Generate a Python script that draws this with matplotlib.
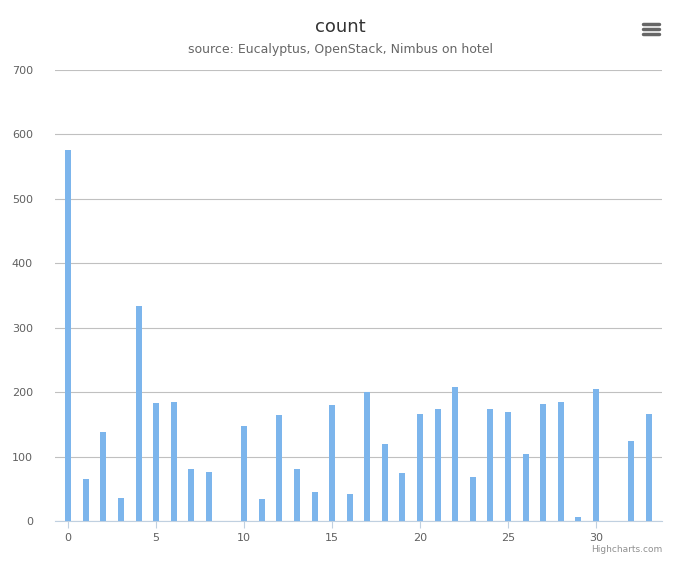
import matplotlib
matplotlib.use("Agg")
import matplotlib.pyplot as plt

categories = list(range(34))
values = [576, 65, 138, 36, 334, 183, 185, 81, 76, 0, 147, 34, 165, 81, 45, 180, 42, 200,
          120, 74, 166, 174, 208, 68, 174, 169, 104, 182, 185, 6, 205, 0, 124, 166]
yticks = [0, 100, 200, 300, 400, 500, 600, 700]
xticks = [0, 5, 10, 15, 20, 25, 30]

W, H = 680, 566
fig = plt.figure(figsize=(W/100, H/100), dpi=100)
ax = fig.add_axes([55/W, 1-521/H, (662-55)/W, (521-70)/H])
ax.bar(categories, values, width=0.34, color="#7cb5ec", zorder=3)
ax.set_xlim(-0.75, 33.75)
ax.set_ylim(0, 700)
ax.set_yticks(yticks)
ax.set_xticks(xticks)
ax.yaxis.grid(True, color="#c0c0c0", linewidth=0.8, zorder=0)
for s in ["top", "right", "left"]:
    ax.spines[s].set_visible(False)
ax.spines["bottom"].set_color("#c0d0e0")
ax.tick_params(axis="y", length=0, labelsize=8, labelcolor="#606060", pad=16)
ax.tick_params(axis="x", length=5, color="#c0d0e0", labelsize=8, labelcolor="#606060")
for lbl in ax.get_yticklabels():
    lbl.set_horizontalalignment("right")
fig.text(340/W, 1-27/H, "count", ha="center", va="center", fontsize=13, color="#333333")
fig.text(340/W, 1-50/H, "source: Eucalyptus, OpenStack, Nimbus on hotel", ha="center", va="center", fontsize=9, color="#666666")
fig.text(662/W, 1-549/H, "Highcharts.com", ha="right", va="center", fontsize=6.5, color="#909090")
for dy in (-5, 0, 5):
    fig.add_artist(plt.Line2D([643/W, 659/W], [1-(29+dy)/H]*2, color="#666666", linewidth=2.5, solid_capstyle="round"))
fig.savefig("out.png", dpi=100)
